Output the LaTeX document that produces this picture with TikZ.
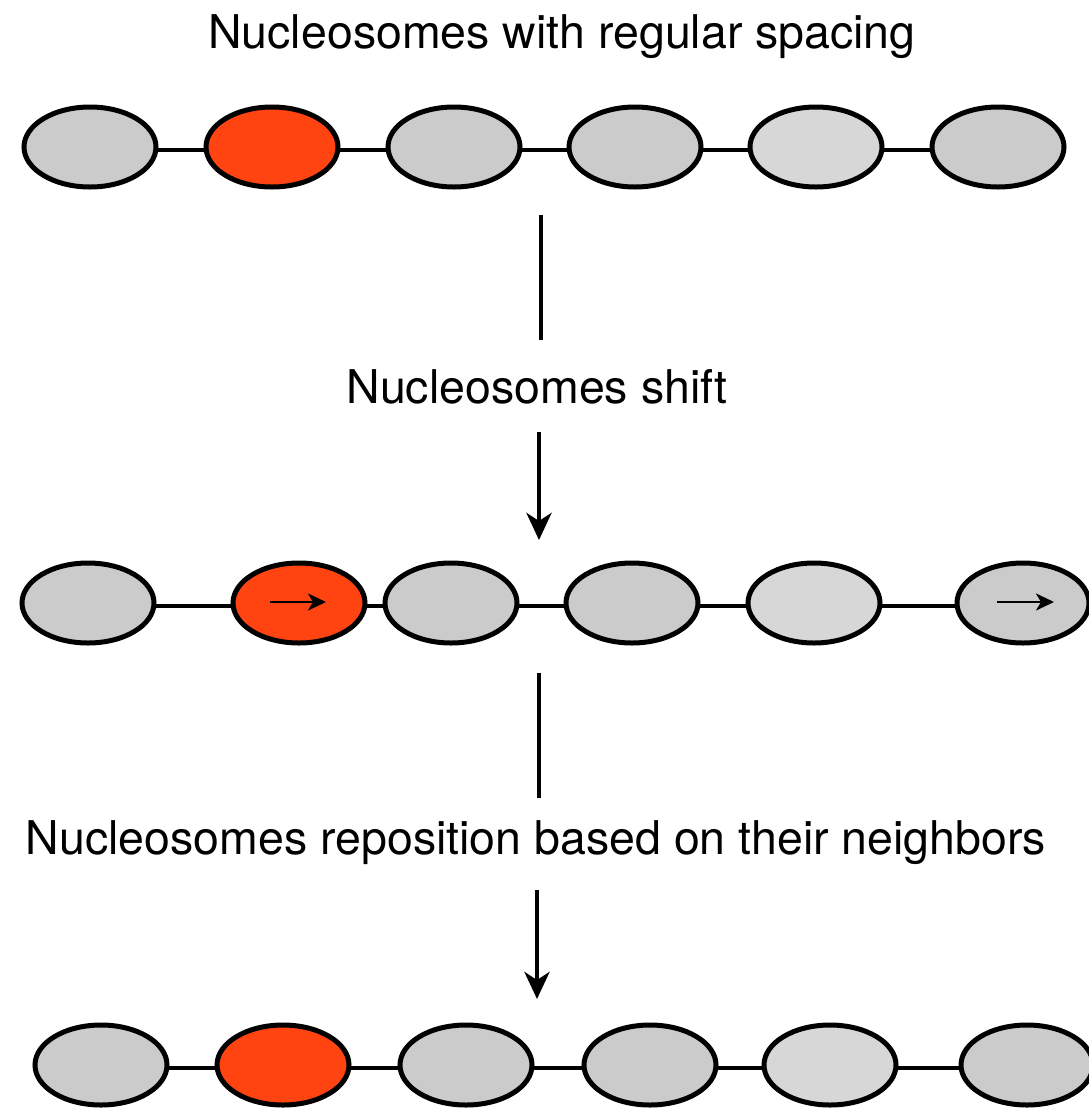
\documentclass[tikz,border=0pt]{standalone}
\usepackage{fontspec}
\setmainfont{TeX Gyre Heros}
\usetikzlibrary{arrows.meta,backgrounds,shapes.geometric}
\definecolor{nucgray}{HTML}{CBCBCB}
\definecolor{nuclight}{HTML}{D7D7D7}
\definecolor{nucred}{HTML}{FF4412}
\tikzset{
  nuc/.style={ellipse,draw=black,line width=5pt,fill=nucgray,minimum width=132pt,minimum height=80pt,inner sep=0pt},
  nucl/.style={nuc,fill=nuclight},
  nucr/.style={nuc,fill=nucred},
  link/.style={line width=4.3pt},
  flow/.style={line width=4.4pt},
  flowarrow/.style={line width=4.4pt,-{Stealth[length=27pt,width=25pt,inset=8pt]}},
  shiftarrow/.style={line width=2.6pt,-{Stealth[length=18pt,width=17pt,inset=5pt]}},
  lbl/.style={font=\fontsize{46.5}{54}\selectfont,anchor=base,inner sep=0pt}
}
\begin{document}
\begin{tikzpicture}[x=1pt,y=-1pt]
\useasboundingbox (0,0) rectangle (1089,1109);
% title
\node[lbl] (title) at (562,48) {Nucleosomes with regular spacing};
% row 1
\node[nuc]  (a1) at (90,147) {};
\node[nucr] (a2) at (272,147) {};
\node[nuc]  (a3) at (454,147) {};
\node[nuc]  (a4) at (635,147) {};
\node[nucl] (a5) at (816,147) {};
\node[nuc]  (a6) at (998,147) {};
% row 2
\node[nuc]  (b1) at (88,603) {};
\node[nucr] (b2) at (299,603) {};
\node[nuc]  (b3) at (451,603) {};
\node[nuc]  (b4) at (632,603) {};
\node[nucl] (b5) at (814,603) {};
\node[nuc]  (b6) at (1023,603) {};
% row 3
\node[nuc]  (c1) at (101,1065) {};
\node[nucr] (c2) at (283,1065) {};
\node[nuc]  (c3) at (466,1065) {};
\node[nuc]  (c4) at (650,1065) {};
\node[nucl] (c5) at (830,1065) {};
\node[nuc]  (c6) at (1027,1065) {};
\begin{scope}[on background layer]
\foreach \r in {a,b,c}{
  \foreach \i/\j in {1/2,2/3,3/4,4/5,5/6}{
    \draw[link] ([yshift=-3pt]\r\i.center) -- ([yshift=-3pt]\r\j.center);
  }
}
\end{scope}
% shift arrows
\coordinate (s1a) at (270,602); \coordinate (s1b) at (326,602);
\coordinate (s2a) at (997,602); \coordinate (s2b) at (1054,602);
\draw[shiftarrow] (s1a) -- (s1b);
\draw[shiftarrow] (s2a) -- (s2b);
% labels
\node[lbl] (shift) at (537,403) {Nucleosomes shift};
\node[lbl] (repos) at (536,854) {Nucleosomes reposition based on their neighbors};
% flow lines
\coordinate (f1a) at (541,215); \coordinate (f1b) at (541,340);
\coordinate (f2a) at (539,432); \coordinate (f2b) at (539,540);
\coordinate (f3a) at (539,673); \coordinate (f3b) at (539,798);
\coordinate (f4a) at (537,890); \coordinate (f4b) at (537,999);
\draw[flow] (f1a) -- (f1b);
\draw[flowarrow] (f2a) -- (f2b);
\draw[flow] (f3a) -- (f3b);
\draw[flowarrow] (f4a) -- (f4b);
\end{tikzpicture}
\end{document}
